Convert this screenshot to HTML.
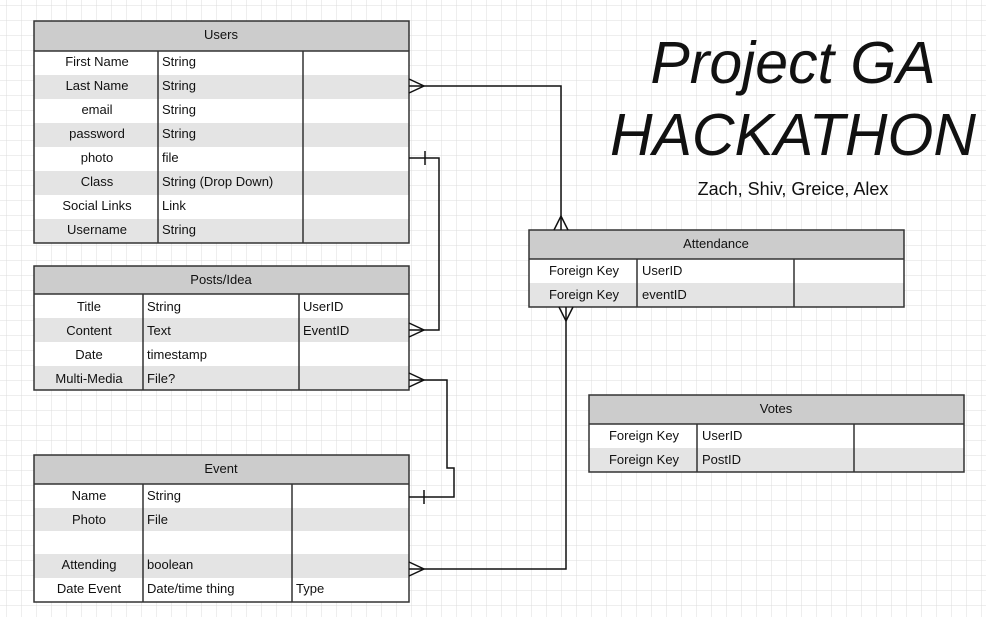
<!DOCTYPE html>
<html><head><meta charset="utf-8"><style>
html,body{margin:0;padding:0;background:#fff}
svg{display:block}
text{font-family:"Liberation Sans",sans-serif;fill:#111}
</style></head><body>
<svg width="986" height="617" xmlns="http://www.w3.org/2000/svg">
<defs>
<pattern id="g" x="7" y="6" width="15" height="15" patternUnits="userSpaceOnUse">
<path d="M15 0V15M0 15H15" fill="none" stroke="#dcdcdc" stroke-width="1"/>
</pattern>
</defs>
<rect width="986" height="617" fill="url(#g)"/>

<!-- Users -->
<g font-size="13">
<rect x="34" y="21" width="375" height="30" fill="#ccc"/>
<rect x="34" y="51" width="375" height="192" fill="#fff"/>
<rect x="34" y="75" width="375" height="24" fill="#e4e4e4"/>
<rect x="34" y="123" width="375" height="24" fill="#e4e4e4"/>
<rect x="34" y="171" width="375" height="24" fill="#e4e4e4"/>
<rect x="34" y="219" width="375" height="24" fill="#e4e4e4"/>
<rect x="34" y="21" width="375" height="222" fill="none" stroke="#333" stroke-width="1.5"/>
<path d="M34 51H409M158 51V243M303 51V243" stroke="#333" stroke-width="1.5"/>
<text x="221" y="39" text-anchor="middle">Users</text>
<g text-anchor="middle">
<text x="97" y="66">First Name</text><text x="97" y="90">Last Name</text><text x="97" y="114">email</text><text x="97" y="138">password</text><text x="97" y="162">photo</text><text x="97" y="186">Class</text><text x="97" y="210">Social Links</text><text x="97" y="234">Username</text>
</g>
<text x="162" y="66">String</text><text x="162" y="90">String</text><text x="162" y="114">String</text><text x="162" y="138">String</text><text x="162" y="162">file</text><text x="162" y="186">String (Drop Down)</text><text x="162" y="210">Link</text><text x="162" y="234">String</text>
</g>

<!-- Posts -->
<g font-size="13">
<rect x="34" y="266" width="375" height="28" fill="#ccc"/>
<rect x="34" y="294" width="375" height="96" fill="#fff"/>
<rect x="34" y="318" width="375" height="24" fill="#e4e4e4"/>
<rect x="34" y="366" width="375" height="24" fill="#e4e4e4"/>
<rect x="34" y="266" width="375" height="124" fill="none" stroke="#333" stroke-width="1.5"/>
<path d="M34 294H409M143 294V390M299 294V390" stroke="#333" stroke-width="1.5"/>
<text x="221" y="284" text-anchor="middle">Posts/Idea</text>
<g text-anchor="middle"><text x="89" y="311">Title</text><text x="89" y="335">Content</text><text x="89" y="359">Date</text><text x="89" y="383">Multi-Media</text></g>
<text x="147" y="311">String</text><text x="147" y="335">Text</text><text x="147" y="359">timestamp</text><text x="147" y="383">File?</text>
<text x="303" y="311">UserID</text><text x="303" y="335">EventID</text>
</g>

<!-- Event -->
<g font-size="13">
<rect x="34" y="455" width="375" height="29" fill="#ccc"/>
<rect x="34" y="484" width="375" height="118" fill="#fff"/>
<rect x="34" y="508" width="375" height="23" fill="#e4e4e4"/>
<rect x="34" y="554" width="375" height="24" fill="#e4e4e4"/>
<rect x="34" y="455" width="375" height="147" fill="none" stroke="#333" stroke-width="1.5"/>
<path d="M34 484H409M143 484V602M292 484V602" stroke="#333" stroke-width="1.5"/>
<text x="221" y="473" text-anchor="middle">Event</text>
<g text-anchor="middle"><text x="89" y="500">Name</text><text x="89" y="524">Photo</text><text x="89" y="569">Attending</text><text x="89" y="593">Date Event</text></g>
<text x="147" y="500">String</text><text x="147" y="524">File</text><text x="147" y="569">boolean</text><text x="147" y="593">Date/time thing</text>
<text x="296" y="593">Type</text>
</g>

<!-- Attendance -->
<g font-size="13">
<rect x="529" y="230" width="375" height="29" fill="#ccc"/>
<rect x="529" y="259" width="375" height="48" fill="#fff"/>
<rect x="529" y="283" width="375" height="24" fill="#e4e4e4"/>
<rect x="529" y="230" width="375" height="77" fill="none" stroke="#333" stroke-width="1.5"/>
<path d="M529 259H904M637 259V307M794 259V307" stroke="#333" stroke-width="1.5"/>
<text x="716" y="248" text-anchor="middle">Attendance</text>
<g text-anchor="middle"><text x="584" y="275">Foreign Key</text><text x="584" y="299">Foreign Key</text></g>
<text x="642" y="275">UserID</text><text x="642" y="299">eventID</text>
</g>

<!-- Votes -->
<g font-size="13">
<rect x="589" y="395" width="375" height="29" fill="#ccc"/>
<rect x="589" y="424" width="375" height="48" fill="#fff"/>
<rect x="589" y="448" width="375" height="24" fill="#e4e4e4"/>
<rect x="589" y="395" width="375" height="77" fill="none" stroke="#333" stroke-width="1.5"/>
<path d="M589 424H964M697 424V472M854 424V472" stroke="#333" stroke-width="1.5"/>
<text x="776" y="413" text-anchor="middle">Votes</text>
<g text-anchor="middle"><text x="644" y="440">Foreign Key</text><text x="644" y="464">Foreign Key</text></g>
<text x="702" y="440">UserID</text><text x="702" y="464">PostID</text>
</g>

<!-- connectors -->
<g fill="none" stroke="#111" stroke-width="1.5">
<path d="M409 86H561V230"/>
<path d="M409 79L424 86L409 93M554 230L561 216L568 230"/>
<path d="M409 158H439V330H409"/>
<path d="M425 151V165M409 323L424 330L409 337"/>
<path d="M409 380H447V468H454V497H409"/>
<path d="M409 373L424 380L409 387M424 490V504"/>
<path d="M409 569H566V307"/>
<path d="M409 562L424 569L409 576M559 307L566 321L573 307"/>
</g>

<!-- title -->
<text x="793" y="83" text-anchor="middle" font-size="59" font-style="italic">Project GA</text>
<text x="793" y="155" text-anchor="middle" font-size="59" font-style="italic">HACKATHON</text>
<text x="793" y="195" text-anchor="middle" font-size="18">Zach, Shiv, Greice, Alex</text>
</svg>
</body></html>
